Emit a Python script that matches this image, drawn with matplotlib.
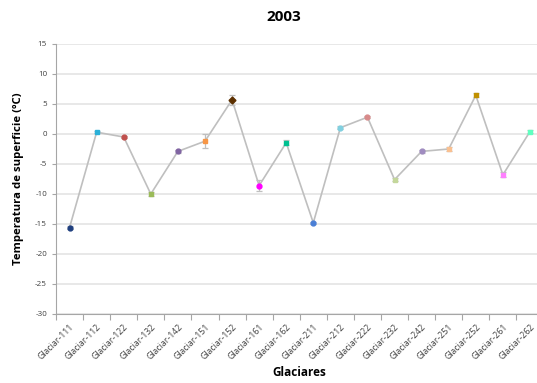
import numpy as np
import matplotlib.pyplot as plt

plt.rcParams['font.family'] = ['Open Sans', 'DejaVu Sans']

# data
glaciers = ['Glaciar-111', 'Glaciar-112', 'Glaciar-122', 'Glaciar-132', 'Glaciar-142',
            'Glaciar-151', 'Glaciar-152', 'Glaciar-161', 'Glaciar-162', 'Glaciar-211',
            'Glaciar-212', 'Glaciar-222', 'Glaciar-232', 'Glaciar-242', 'Glaciar-251',
            'Glaciar-252', 'Glaciar-261', 'Glaciar-262']
temps = [-15.6, 0.3, -0.5, -10.0, -2.9, -1.2, 5.7, -8.6, -1.45, -14.8,
         1.05, 2.8, -7.6, -2.9, -2.5, 6.45, -6.8, 0.4]
errors = [0.2, 0.2, 0.2, 0.3, 0.2, 1.2, 0.8, 0.9, 0.4, 0.2,
          0.2, 0.2, 0.3, 0.2, 0.4, 0.3, 0.4, 0.3]
colors = ['#1f3f7f', '#2ab0d8', '#c0504d', '#9bbb59', '#8064a2', '#f79646',
          '#5c3000', '#ff00ff', '#00c090', '#4a7fd6', '#80d0e0', '#d88a8a',
          '#c4d79b', '#a08cc0', '#fac090', '#c09000', '#ff80ff', '#60ffc0']
markers = ['o', 's', 'o', 's', 'o', 's', 'D', 'o', 's', 'o',
           'o', 'o', 's', 'o', 's', 's', 's', 's']
yticks = [15, 10, 5, 0, -5, -10, -15, -20, -25, -30]

fig = plt.figure(figsize=(5.37, 3.83), dpi=100)
ax = fig.add_axes([56 / 537, 1 - 314 / 383, 487.5 / 537, 270 / 383])

x = np.arange(len(glaciers))
ax.plot(x, temps, color='#bfbfbf', lw=1.2, zorder=2)
ax.errorbar(x, temps, yerr=errors, fmt='none', ecolor='#bfbfbf', elinewidth=0.9,
            capsize=2.5, capthick=0.9, zorder=2)
for xi, yi, c, m in zip(x, temps, colors, markers):
    ax.plot(xi, yi, marker=m, ms=3.5, color=c, mec=c, zorder=3, ls='none')

ax.set_xlim(-0.5, len(glaciers) - 0.5)
ax.set_ylim(-30, 15)
ax.set_yticks(yticks)
ax.set_yticklabels([str(v) for v in yticks], fontsize=5.8, color='#404040')
ax.yaxis.grid(True, color='#e6e6e6', lw=1.3)
ax.set_axisbelow(True)

ax.set_xticks(x)
ax.set_xticklabels(glaciers, rotation=45, ha='right', rotation_mode='anchor',
                   fontsize=6.3, color='#404040')
ax.set_xticks(np.arange(-0.5, len(glaciers)), minor=True)
ax.tick_params(axis='x', which='major', length=0, pad=6)
ax.tick_params(axis='x', which='minor', length=4, color='#a6a6a6', width=0.8)
ax.tick_params(axis='y', length=3, color='#a6a6a6', width=0.8)

for s in ['top', 'right']:
    ax.spines[s].set_visible(False)
for s in ['left', 'bottom']:
    ax.spines[s].set_color('#a6a6a6')
    ax.spines[s].set_linewidth(0.8)

ax.set_xlabel('Glaciares', fontsize=8.5, fontweight='bold', labelpad=3)
ax.set_ylabel('Temperatura de superficie (ºC)', fontsize=8.2, fontweight='bold', labelpad=8)
fig.text(284 / 537, 1 - 17 / 383, '2003', fontsize=11, fontweight='bold', ha='center', va='center')

fig.savefig('out.png', dpi=100)
